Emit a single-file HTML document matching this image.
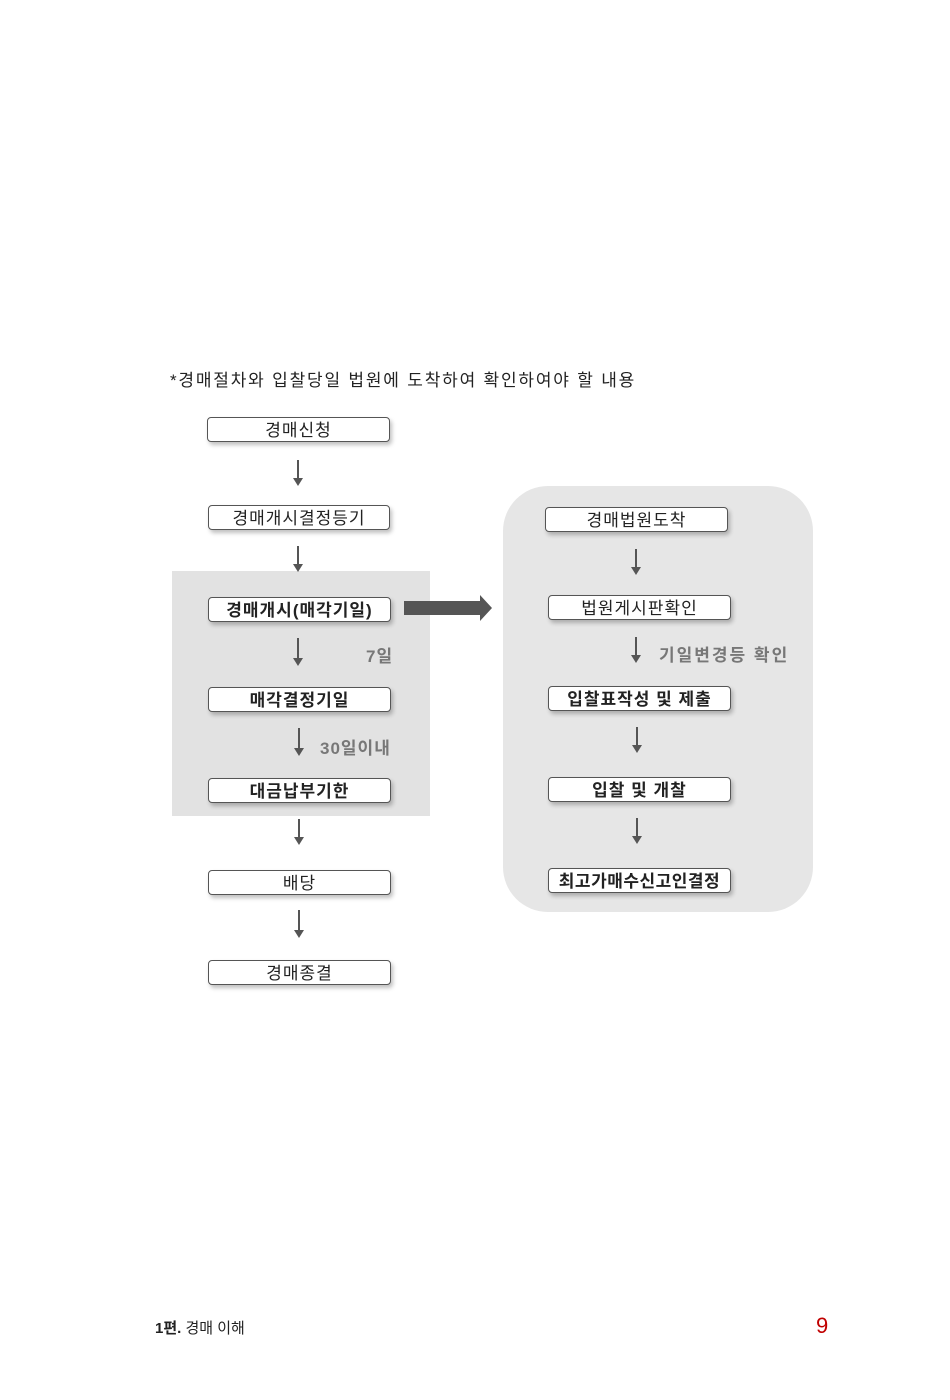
<!DOCTYPE html>
<html><head><meta charset="utf-8"><style>
body{margin:0;width:950px;height:1400px;background:#fff;position:relative;font-family:"Liberation Sans","Noto Sans CJK KR",sans-serif;overflow:hidden}
.a{position:absolute}
.b{position:absolute;box-sizing:border-box;border:1.5px solid #555;border-radius:4px;background:#fff;text-align:center;font-size:17px;line-height:23px;padding-top:1px;color:#222;box-shadow:2px 3px 4px rgba(0,0,0,.25);letter-spacing:1px}
.bold{font-weight:bold}
.ar{position:absolute;width:2px;background:#555}
.ar:after{content:"";position:absolute;left:-4px;bottom:-6px;border-left:5px solid transparent;border-right:5px solid transparent;border-top:8px solid #555}
.lbl{position:absolute;font-weight:bold;color:#777;font-size:17px;letter-spacing:1px}
</style></head><body>
<div class="a" style="left:170px;top:366px;font-size:17px;color:#222;letter-spacing:1.8px">*경매절차와 입찰당일 법원에 도착하여 확인하여야 할 내용</div>
<div class="a" style="left:172px;top:571px;width:258px;height:245px;background:#e2e2e2"></div>
<div class="a" style="left:503px;top:486px;width:310px;height:426px;background:#e6e6e6;border-radius:45px"></div>

<div class="b" style="left:207px;top:417px;width:183px;height:25px">경매신청</div>
<div class="ar" style="left:297px;top:460px;height:20px"></div>
<div class="b" style="left:208px;top:505px;width:182px;height:25px">경매개시결정등기</div>
<div class="ar" style="left:297px;top:546px;height:20px"></div>
<div class="b bold" style="left:208px;top:597px;width:183px;height:25px">경매개시(매각기일)</div>
<div class="ar" style="left:297px;top:638px;height:22px"></div>
<div class="lbl" style="left:366px;top:642px">7일</div>
<div class="b bold" style="left:208px;top:687px;width:183px;height:25px">매각결정기일</div>
<div class="ar" style="left:298px;top:728px;height:22px"></div>
<div class="lbl" style="left:320px;top:734px">30일이내</div>
<div class="b bold" style="left:208px;top:778px;width:183px;height:25px">대금납부기한</div>
<div class="ar" style="left:298px;top:819px;height:20px"></div>
<div class="b" style="left:208px;top:870px;width:183px;height:25px">배당</div>
<div class="ar" style="left:298px;top:910px;height:22px"></div>
<div class="b" style="left:208px;top:960px;width:183px;height:25px">경매종결</div>

<svg class="a" style="left:403px;top:594px" width="92" height="30"><polygon points="1,7 77,7 77,1 89,14 77,27 77,21 1,21" fill="#555"/></svg>

<div class="b" style="left:545px;top:507px;width:183px;height:25px">경매법원도착</div>
<div class="ar" style="left:635px;top:549px;height:20px"></div>
<div class="b" style="left:548px;top:595px;width:183px;height:25px">법원게시판확인</div>
<div class="ar" style="left:635px;top:637px;height:20px"></div>
<div class="lbl" style="left:659px;top:641px;letter-spacing:2px">기일변경등 확인</div>
<div class="b bold" style="left:548px;top:686px;width:183px;height:25px">입찰표작성 및 제출</div>
<div class="ar" style="left:636px;top:727px;height:20px"></div>
<div class="b bold" style="left:548px;top:777px;width:183px;height:25px">입찰 및 개찰</div>
<div class="ar" style="left:636px;top:818px;height:20px"></div>
<div class="b bold" style="left:548px;top:868px;width:183px;height:25px;letter-spacing:0.5px">최고가매수신고인결정</div>

<div class="a" style="left:155px;top:1317px;font-size:15px;color:#222"><b>1편.</b> 경매 이해</div>
<div class="a" style="left:816px;top:1313px;font-size:22px;color:#c00000">9</div>
</body></html>
